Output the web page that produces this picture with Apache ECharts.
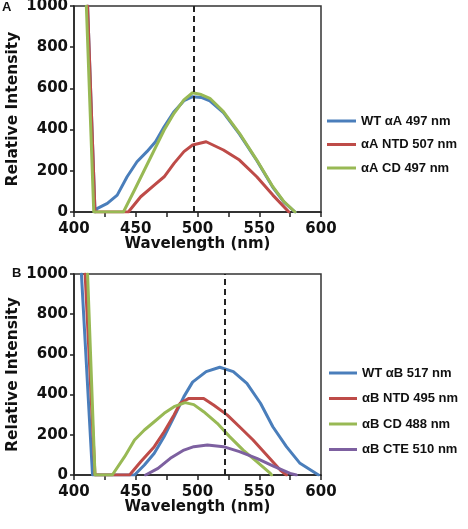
<!DOCTYPE html>
<html><head><meta charset="utf-8">
<script src="https://cdn.jsdelivr.net/npm/echarts@6/dist/echarts.min.js"></script>
<style>html,body{margin:0;padding:0;background:#fff}#c{width:468px;height:529px}</style>
</head><body><div id="c"></div>
<script>
// Panel A
const wlA_WT = [411, 417, 419, 427, 435, 443, 451, 459, 466, 473, 481, 489, 496, 503, 510, 521, 534, 548, 561, 570, 579];
const intA_WT = [1000, 0, 18, 42, 82, 171, 244, 293, 341, 414, 487, 540, 560, 556, 540, 482, 378, 250, 120, 48, 0];
const wlA_NTD = [411, 417, 444, 454, 465, 473, 481, 489, 496, 507, 521, 534, 548, 561, 574];
const intA_NTD = [1000, 0, 0, 74, 131, 171, 236, 293, 325, 341, 301, 252, 171, 82, 0];
const wlA_CD = [410, 416, 440, 449, 457, 465, 473, 481, 489, 496, 503, 510, 521, 534, 548, 561, 570, 579];
const intA_CD = [1000, 0, 0, 107, 204, 301, 398, 479, 544, 579, 570, 552, 487, 382, 252, 123, 50, 0];
const peakA = 497;
// Panel B
const wlB_WT = [406, 415, 449, 457, 465, 473, 481, 489, 496, 507, 518, 529, 540, 551, 561, 572, 583, 598];
const intB_WT = [1000, 0, 0, 50, 108, 191, 290, 390, 462, 514, 536, 514, 456, 357, 240, 141, 58, 0];
const wlB_NTD = [409, 417, 445, 454, 465, 473, 481, 486, 493, 505, 513, 524, 534, 545, 556, 567, 572];
const intB_NTD = [1000, 0, 0, 66, 141, 215, 299, 357, 381, 381, 348, 299, 240, 174, 100, 25, 0];
const wlB_CD = [411, 417, 431, 441, 449, 457, 465, 473, 481, 490, 497, 505, 516, 526, 537, 548, 559, 560];
const intB_CD = [1000, 0, 0, 91, 174, 224, 265, 307, 340, 360, 350, 315, 257, 191, 124, 66, 8, 0];
const wlB_CTE = [458, 468, 478, 489, 497, 508, 521, 534, 548, 561, 575, 580];
const intB_CTE = [0, 33, 83, 124, 141, 149, 141, 116, 83, 45, 8, 0];
const peakB = 522;
const xTicks = [400, 450, 500, 550, 600];
const yTicks = [0, 200, 400, 600, 800, 1000];
const namesA = ['WT αA 497 nm', 'αA NTD 507 nm', 'αA CD 497 nm'];
const namesB = ['WT αB 517 nm', 'αB NTD 495 nm', 'αB CD 488 nm', 'αB CTE 510 nm'];
const colors = ['#4A7EBB', '#BE4B48', '#98B954', '#7D60A0'];

const zip = (a, b) => a.map((x, i) => [x, b[i]]);
const F = 'DejaVu Sans, sans-serif';
const FL = 'Liberation Sans, Arial, sans-serif';
function xAx(gi) {
  return {
    type: 'value', gridIndex: gi, min: 400, max: 600, interval: 25,
    name: 'Wavelength (nm)', nameLocation: 'middle', nameGap: 25, nameMoveOverlap: false,
    nameTextStyle: { fontFamily: F, fontWeight: 'bold', fontSize: 15, color: '#111' },
    axisLine: { lineStyle: { color: '#222', width: 1.5 } },
    axisTick: { show: true, length: 5, lineStyle: { color: '#222', width: 1.5 } },
    axisLabel: { fontFamily: F, fontWeight: 'bold', fontSize: 15, color: '#111', margin: 10,
      formatter: v => xTicks.includes(v) ? String(v) : '' },
    splitLine: { show: false }
  };
}
function yAx(gi) {
  return {
    type: 'value', gridIndex: gi, min: 0, max: 1000, interval: 200,
    name: 'Relative Intensity', nameLocation: 'middle', nameGap: 53, nameMoveOverlap: false,
    nameTextStyle: { fontFamily: F, fontWeight: 'bold', fontSize: 15.5, color: '#111' },
    axisLine: { show: true, lineStyle: { color: '#222', width: 1.5 } },
    axisTick: { show: true, length: 4, lineStyle: { color: '#222', width: 1.5 } },
    axisLabel: { fontFamily: F, fontWeight: 'bold', fontSize: 15, color: '#111', margin: 6,
      formatter: v => yTicks.includes(v) ? String(v) : '' },
    splitLine: { show: false }
  };
}
function ser(name, wl, val, color, gi, peak) {
  const s = {
    name, type: 'line', xAxisIndex: gi, yAxisIndex: gi, data: zip(wl, val),
    showSymbol: false, smooth: false, clip: true,
    lineStyle: { color, width: 3, join: 'round', cap: 'round' }, itemStyle: { color }
  };
  if (peak !== undefined) {
    s.markLine = { silent: true, symbol: 'none', label: { show: false },
      lineStyle: { color: '#222', width: 2, type: [6, 4] },
      data: [{ xAxis: peak }] };
  }
  return s;
}
const series = [
  ser(namesA[0], wlA_WT, intA_WT, colors[0], 0),
  ser(namesA[1], wlA_NTD, intA_NTD, colors[1], 0),
  ser(namesA[2], wlA_CD, intA_CD, colors[2], 0, peakA),
  ser(namesB[0], wlB_WT, intB_WT, colors[0], 1),
  ser(namesB[1], wlB_NTD, intB_NTD, colors[1], 1),
  ser(namesB[2], wlB_CD, intB_CD, colors[2], 1),
  ser(namesB[3], wlB_CTE, intB_CTE, colors[3], 1, peakB)
];
const legStyle = { fontFamily: FL, fontWeight: 'bold', fontSize: 13, color: '#111', lineHeight: 14 };
const chart = echarts.init(document.getElementById('c'), null, { renderer: 'canvas' });
chart.setOption({
  animation: false,
  backgroundColor: '#fff',
  grid: [
    { left: 74, top: 6, width: 247, height: 206, show: true, borderColor: '#333', borderWidth: 1.5, backgroundColor: 'transparent', outerBoundsMode: 'none', containLabel: false },
    { left: 74, top: 274, width: 247, height: 201, show: true, borderColor: '#333', borderWidth: 1.5, backgroundColor: 'transparent', outerBoundsMode: 'none', containLabel: false }
  ],
  xAxis: [xAx(0), xAx(1)],
  yAxis: [yAx(0), yAx(1)],
  legend: [
    { data: namesA, orient: 'vertical', left: 327, top: 114, padding: 0, itemGap: 9.5, itemWidth: 29, itemHeight: 3, icon: 'rect', textStyle: legStyle, selectedMode: false },
    { data: namesB, orient: 'vertical', left: 329, top: 366, padding: 0, itemGap: 11.5, itemWidth: 28, itemHeight: 3, icon: 'rect', textStyle: legStyle, selectedMode: false }
  ],
  graphic: [
    { type: 'text', left: 2, top: 1, style: { text: 'A', font: 'bold 13px ' + FL, fill: '#111' } },
    { type: 'text', left: 12, top: 267, style: { text: 'B', font: 'bold 13px ' + FL, fill: '#111' } }
  ],
  series
});
</script></body></html>
